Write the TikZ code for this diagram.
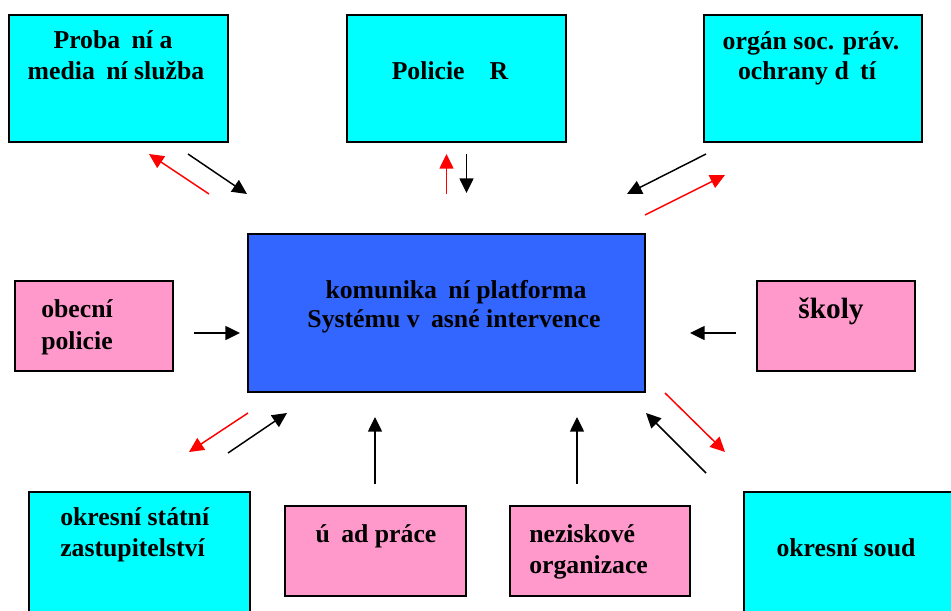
\documentclass[tikz,border=0pt]{standalone}
\usepackage{fontspec}
\setmainfont{Liberation Serif}
\usetikzlibrary{arrows.meta,fit}
\definecolor{cyanbox}{HTML}{00FFFF}
\definecolor{pinkbox}{HTML}{FF99CC}
\definecolor{bluebox}{HTML}{3366FF}
\definecolor{redarrow}{HTML}{FF0000}
\begin{document}
\begin{tikzpicture}[x=0.75pt,y=-0.75pt,
  box/.style={draw=black, line width=1.4pt, inner sep=0pt},
  cbox/.style={box, fill=cyanbox},
  pbox/.style={box, fill=pinkbox},
  bbox/.style={box, fill=bluebox},
  txt/.style={font=\fontsize{19.3pt}{23pt}\selectfont\bfseries, inner sep=0pt, anchor=base},
  ltxt/.style={txt, anchor=base west},
  big/.style={txt, font=\fontsize{22pt}{26pt}\selectfont\bfseries},
  arr/.style={line width=1.1pt, -{Triangle[length=11pt,width=10.5pt]}},
  blk/.style={arr, draw=black},
  rd/.style={arr, draw=redarrow, -{Triangle[length=11pt,width=10.5pt,fill=redarrow]}}]
\clip (0,0) rectangle (951,611);
\fill[white] (0,0) rectangle (951,611);
% boxes
\node[cbox, fit={(9,15)(228,142)}] (prob) {};
\node[cbox, fit={(347,15)(566,142)}] (pol) {};
\node[cbox, fit={(704,15)(922,142)}] (org) {};
\node[pbox, fit={(15,281)(173,371)}] (obec) {};
\node[bbox, fit={(248,234)(645,392)}] (plat) {};
\node[pbox, fit={(757,281)(915,371)}] (skoly) {};
\node[cbox, fit={(29,492)(250,630)}] (ozs) {};
\node[pbox, fit={(285,506)(466,596)}] (urad) {};
\node[pbox, fit={(510,506)(690,596)}] (nez) {};
\node[cbox, fit={(744,492)(965,630)}] (soud) {};
% texts
\node[txt] (probA) at (113,48) {Proba\phantom{č}ní a};
\node[txt] (probB) at (116,79) {media\phantom{č}ní služba};
\node[txt] (polA) at (450,79) {Policie \phantom{Č}R};
\node[txt] (orgA) at (811,49) {orgán soc. práv.};
\node[txt] (orgB) at (807,79) {ochrany d\phantom{ě}tí};
\node[ltxt] (obecA) at (41,317) {obecní};
\node[ltxt] (obecB) at (41,349) {policie};
\node[txt] (platA) at (456,298) {komunika\phantom{č}ní platforma};
\node[txt] (platB) at (454,327) {Systému v\phantom{č}asné intervence};
\node[big] (skolyA) at (831,318) {školy};
\node[ltxt] (ozsA) at (60,525) {okresní státní};
\node[ltxt] (ozsB) at (60,556) {zastupitelství};
\node[txt] (uradA) at (376,542) {ú\phantom{ř}ad práce};
\node[ltxt] (nezA) at (529,542) {neziskové};
\node[ltxt] (nezB) at (529,573) {organizace};
\node[txt] (soudA) at (846,556) {okresní soud};
% arrow end points
\coordinate (p1) at (209,194); \coordinate (p2) at (149,154);
\coordinate (p3) at (188,154); \coordinate (p4) at (247,194);
\coordinate (q1) at (446.5,194); \coordinate (q2) at (446.5,154);
\coordinate (q3) at (466.5,154); \coordinate (q4) at (466.5,193);
\coordinate (r1) at (706,154); \coordinate (r2) at (627,194);
\coordinate (r3) at (645,215); \coordinate (r4) at (725,175);
\coordinate (o1) at (194,333); \coordinate (o2) at (240,333);
\coordinate (s1) at (736,333); \coordinate (s2) at (690,333);
\coordinate (z1) at (248,413); \coordinate (z2) at (189,452);
\coordinate (z3) at (228,453); \coordinate (z4) at (287,413);
\coordinate (u1) at (375,484); \coordinate (u2) at (375,417);
\coordinate (n1) at (577,484); \coordinate (n2) at (577,417);
\coordinate (d1) at (706,473); \coordinate (d2) at (646,413);
\coordinate (d3) at (665,393); \coordinate (d4) at (725,452);
% arrows
\draw[rd] (p1) -- (p2);
\draw[blk] (p3) -- (p4);
\draw[rd] (q1) -- (q2);
\draw[blk] (q3) -- (q4);
\draw[blk] (r1) -- (r2);
\draw[rd] (r3) -- (r4);
\draw[blk] (o1) -- (o2);
\draw[blk] (s1) -- (s2);
\draw[rd] (z1) -- (z2);
\draw[blk] (z3) -- (z4);
\draw[blk] (u1) -- (u2);
\draw[blk] (n1) -- (n2);
\draw[blk] (d1) -- (d2);
\draw[rd] (d3) -- (d4);
\end{tikzpicture}
\end{document}
